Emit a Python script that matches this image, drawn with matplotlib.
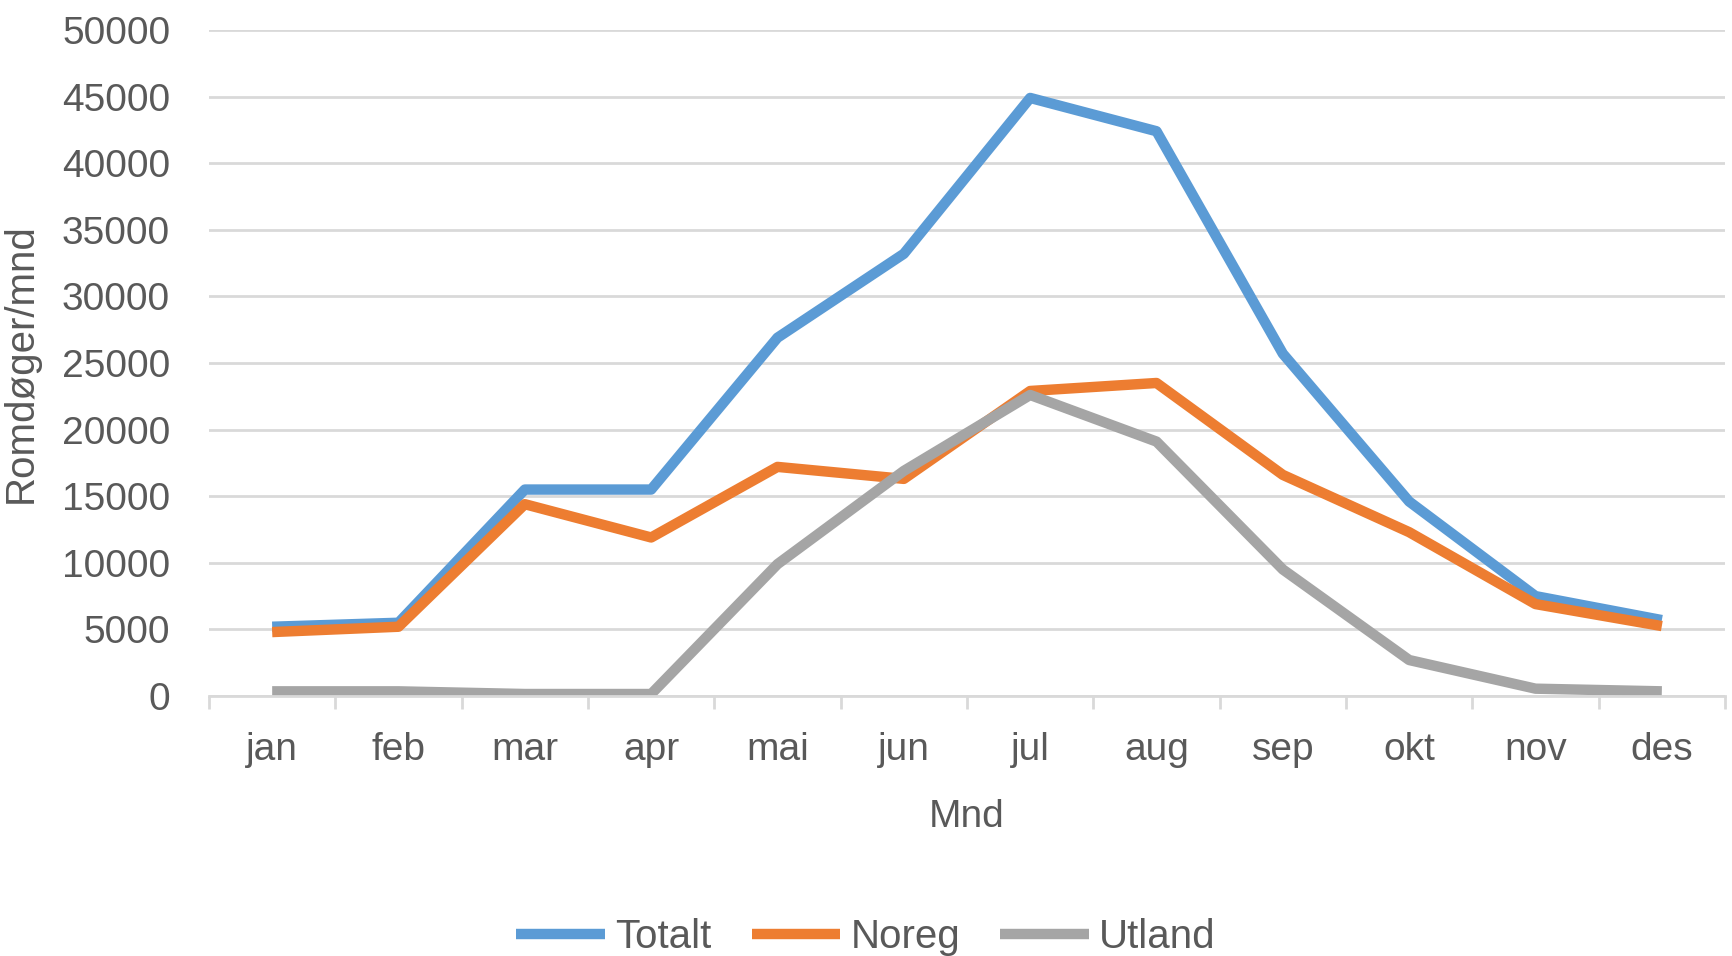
import matplotlib
matplotlib.use("Agg")
import matplotlib.pyplot as plt
import numpy as np

months = ["jan", "feb", "mar", "apr", "mai", "jun", "jul", "aug", "sep", "okt", "nov", "des"]
totalt = [5200, 5500, 15500, 15500, 26900, 33200, 44900, 42400, 25700, 14600, 7500, 5700]
noreg = [4800, 5200, 14400, 11900, 17200, 16300, 22900, 23500, 16600, 12300, 6900, 5250]
utland = [350, 350, 150, 150, 9900, 16900, 22600, 19100, 9500, 2700, 550, 350]
yticks = [0, 5000, 10000, 15000, 20000, 25000, 30000, 35000, 40000, 45000, 50000]

plt.rcParams['font.family'] = ['Liberation Sans Narrow', 'Liberation Sans', 'DejaVu Sans']
text_col = "#595959"
grid_col = "#D9D9D9"
fs = 28

fig = plt.figure(figsize=(17.32, 9.56), dpi=100)
ax = fig.add_axes([209 / 1732, 1 - 696 / 956, (1725 - 209) / 1732, (696 - 30) / 956])

x = np.arange(len(months))
for vals, col, name in [(totalt, "#5B9BD5", "Totalt"), (noreg, "#ED7D31", "Noreg"), (utland, "#A5A5A5", "Utland")]:
    ax.plot(x, vals, color=col, lw=7.5, label=name, solid_joinstyle="round", solid_capstyle="butt")

ax.set_xlim(-0.5, 11.5)
ax.set_ylim(0, 50000)
ax.set_yticks(yticks)
ax.set_yticklabels([str(v) for v in yticks])
ax.set_xticks(x)
ax.set_xticklabels(months)
ax.set_xticks(np.arange(-0.5, 12, 1), minor=True)

ax.grid(axis="y", color=grid_col, lw=2)
ax.set_axisbelow(True)
for s in ["top", "right", "left"]:
    ax.spines[s].set_visible(False)
ax.spines["bottom"].set_color(grid_col)
ax.spines["bottom"].set_linewidth(2)

ax.tick_params(axis="y", length=0, pad=28, labelsize=fs, labelcolor=text_col)
ax.tick_params(axis="x", which="major", length=0, pad=26, labelsize=fs, labelcolor=text_col)
ax.tick_params(axis="x", which="minor", length=9, width=2, color=grid_col)

ax.set_xlabel("Mnd", fontsize=fs, color=text_col, labelpad=22)
ax.set_ylabel("Romdøger/mnd", fontsize=fs + 1, color=text_col, labelpad=16)

fig.legend(loc="center", bbox_to_anchor=(0.5, 1 - 937 / 956), ncol=3, frameon=False,
           fontsize=fs + 1, labelcolor=text_col, handlelength=2.2, handletextpad=0.25,
           columnspacing=1.0)

fig.savefig("out.png", dpi=100)
